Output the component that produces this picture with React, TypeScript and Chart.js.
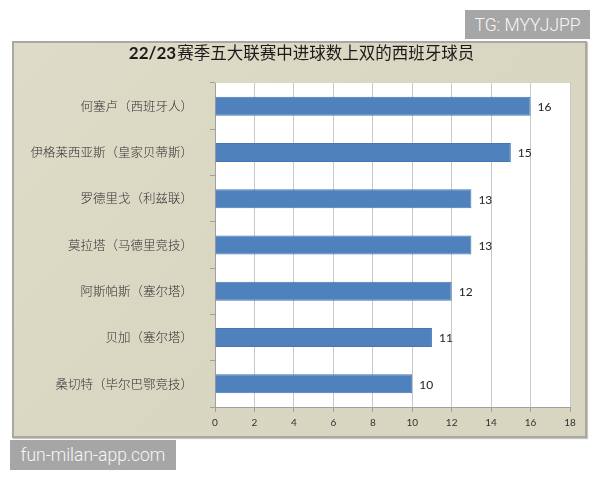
import React, { useEffect, useRef } from "react";
import { Chart, registerables } from "chart.js";

Chart.register(...registerables);

const titleNum = "22/23";
const titleText = "赛季五大联赛中进球数上双的西班牙球员";
const players = [
  "何塞卢（西班牙人）",
  "伊格莱西亚斯（皇家贝蒂斯）",
  "罗德里戈（利兹联）",
  "莫拉塔（马德里竞技）",
  "阿斯帕斯（塞尔塔）",
  "贝加（塞尔塔）",
  "桑切特（毕尔巴鄂竞技）",
];
const goals = [16, 15, 13, 13, 12, 11, 10];
const xMin = 0;
const xMax = 18;
const xStep = 2;
const watermarkTop = "TG: MYYJJPP";
const watermarkBottom = "fun-milan-app.com";

const cjk = "'Noto Sans CJK SC', sans-serif";
const num = "Lato, 'Liberation Sans', sans-serif";

export default function App() {
  const ref = useRef<HTMLCanvasElement | null>(null);

  useEffect(() => {
    const canvas = ref.current;
    if (!canvas) return;

    const plotBg = {
      id: "plotBg",
      beforeDraw(chart: any) {
        const { ctx, chartArea } = chart;
        ctx.save();
        ctx.fillStyle = "#ffffff";
        ctx.fillRect(chartArea.left, chartArea.top, chartArea.right - chartArea.left, chartArea.bottom - chartArea.top);
        ctx.restore();
      },
    };

    const titlePlugin = {
      id: "mixedTitle",
      afterDraw(chart: any) {
        const { ctx } = chart;
        ctx.save();
        const f1 = `bold 17px ${num}`;
        const f2 = `16.5px ${cjk}`;
        ctx.font = f1;
        const w1 = ctx.measureText(titleNum).width;
        ctx.font = f2;
        const w2 = ctx.measureText(titleText).width;
        const x0 = 301 - (w1 + w2) / 2;
        ctx.textBaseline = "middle";
        ctx.textAlign = "left";
        ctx.fillStyle = "#1a1a1a";
        ctx.font = f1;
        ctx.fillText(titleNum, x0, 54);
        ctx.font = f2;
        ctx.fillText(titleText, x0 + w1 + 1, 53);
        ctx.restore();
      },
    };

    const valueLabels = {
      id: "valueLabels",
      afterDatasetsDraw(chart: any) {
        const { ctx } = chart;
        const meta = chart.getDatasetMeta(0);
        ctx.save();
        ctx.font = `12px ${num}`;
        ctx.fillStyle = "#222";
        ctx.textAlign = "left";
        ctx.textBaseline = "middle";
        meta.data.forEach((bar: any, i: number) => {
          ctx.fillText(String(chart.data.datasets[0].data[i]), bar.x + 7, bar.y + 1);
        });
        ctx.restore();
      },
    };

    const chart = new Chart(canvas, {
      type: "bar",
      data: {
        labels: players,
        datasets: [
          {
            data: goals,
            backgroundColor: "#4F81BD",
            borderColor: "#4677B0",
            borderWidth: 1,
            barPercentage: 0.41,
            categoryPercentage: 1,
          },
        ],
      },
      options: {
        indexAxis: "y",
        responsive: false,
        animation: false,
        layout: { padding: { top: 83, right: 30, bottom: 42, left: 0 } },
        plugins: {
          legend: { display: false },
          tooltip: { enabled: false },
          title: { display: false },
        },
        scales: {
          x: {
            min: xMin,
            max: xMax,
            ticks: {
              stepSize: xStep,
              font: { family: num, size: 10 },
              color: "#333",
              padding: 5,
            },
            grid: { color: "#C8C8C8", tickLength: 5, tickColor: "#A0A0A0" },
            border: { display: true, color: "#A0A0A0" },
            afterFit(scale: any) {
              scale.height = 31;
            },
          },
          y: {
            ticks: {
              font: { family: cjk, size: 12.5, weight: "300" },
              color: "#333",
              padding: 17,
            },
            grid: { drawOnChartArea: false, tickLength: 5, color: "#A0A0A0" },
            border: { display: true, color: "#A0A0A0" },
            afterFit(scale: any) {
              scale.width = 215;
            },
          },
        },
      } as any,
      plugins: [plotBg, titlePlugin, valueLabels],
    });

    return () => chart.destroy();
  }, []);

  const wm: React.CSSProperties = {
    position: "absolute",
    background: "#A6A6A6",
    color: "#F7F7F7",
    fontFamily: "Roboto, 'Liberation Sans', Arial, sans-serif",
    fontWeight: 300,
    fontSize: 17.5,
    display: "flex",
    alignItems: "center",
    justifyContent: "center",
    zIndex: 3,
  };

  return (
    <div style={{ position: "absolute", left: 0, top: 0, width: 600, height: 480, background: "#fff", overflow: "hidden" }}>
      <div
        style={{
          position: "absolute",
          left: 12,
          top: 41,
          width: 571,
          height: 393,
          background: "linear-gradient(135deg, #DEDBC8 0%, #D9D6C1 50%, #D8D5C0 100%)",
          border: "2px solid #A9A8A2",
          boxShadow: "1px 1px 1px #C9C8C0",
          zIndex: 1,
        }}
      />
      <canvas ref={ref} width={600} height={480} style={{ position: "absolute", left: 0, top: 0, zIndex: 2 }} />
      <div style={{ ...wm, left: 465, top: 10, width: 125, height: 29 }}>{watermarkTop}</div>
      <div style={{ ...wm, left: 10, top: 440, width: 166, height: 30 }}>{watermarkBottom}</div>
    </div>
  );
}
